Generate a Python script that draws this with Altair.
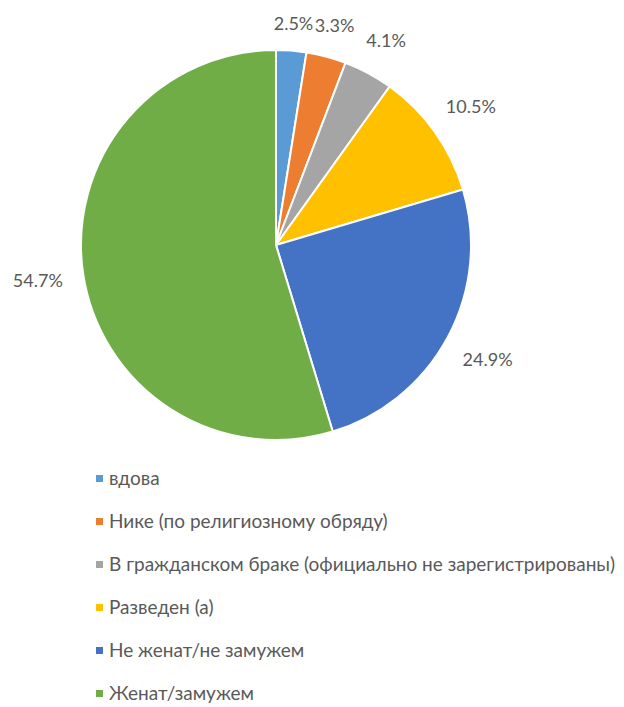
import altair as alt
import pandas as pd

categories = [
    "вдова",
    "Нике (по религиозному обряду)",
    "В гражданском браке (официально не зарегистрированы)",
    "Разведен (а)",
    "Не женат/не замужем",
    "Женат/замужем",
]
values = [2.5, 3.3, 4.1, 10.5, 24.9, 54.7]
colors = ["#5B9BD5", "#ED7D31", "#A5A5A5", "#FFC000", "#4472C4", "#70AD47"]

df = pd.DataFrame({"category": categories, "value": values, "order": list(range(len(values)))})

FONT = "Lato"
TXT = "#595959"

arc = alt.Chart(df).mark_arc(outerRadius=195, stroke="white", strokeWidth=2).encode(
    theta=alt.Theta("value:Q", stack=True),
    order=alt.Order("order:Q"),
    x=alt.value(268),
    y=alt.value(237),
    color=alt.Color(
        "category:N",
        scale=alt.Scale(domain=categories, range=colors),
        sort=categories,
        legend=alt.Legend(
            title=None,
            orient="none",
            legendX=82,
            legendY=461,
            padding=0,
            direction="vertical",
            symbolType="square",
            symbolSize=49,
            symbolStrokeWidth=0,
            symbolOffset=0,
            labelFont=FONT,
            labelFontSize=19,
            labelColor=TXT,
            labelOffset=0,
            rowPadding=23,
            labelLimit=1000,
        ),
    ),
)

# Excel-like label placement: labels pushed further out where they sit beside the pie
text = alt.Chart(df).transform_window(
    cum="sum(value)", sort=[alt.SortField("order")], frame=[None, 0]
).transform_calculate(
    label="format(datum.value, '.1f') + '%'",
    mid="(datum.cum - datum.value / 2) / 100 * 2 * PI",
).transform_calculate(
    r="214 + 26 * abs(sin(datum.mid)) + 7 * abs(cos(datum.mid))"
).mark_text(font=FONT, fontSize=18, color=TXT, align="center", baseline="middle", dy=2).encode(
    x=alt.value(268),
    y=alt.value(237),
    theta=alt.Theta("mid:Q", scale=None, stack=None),
    radius=alt.Radius("r:Q", scale=None, stack=None),
    text="label:N",
)

chart = (arc + text).properties(
    width=608, height=699, autosize=alt.AutoSizeParams(type="none"), padding=0
).configure_view(stroke=None)

chart.save("out.html", embed_options={"renderer": "svg", "actions": False})
